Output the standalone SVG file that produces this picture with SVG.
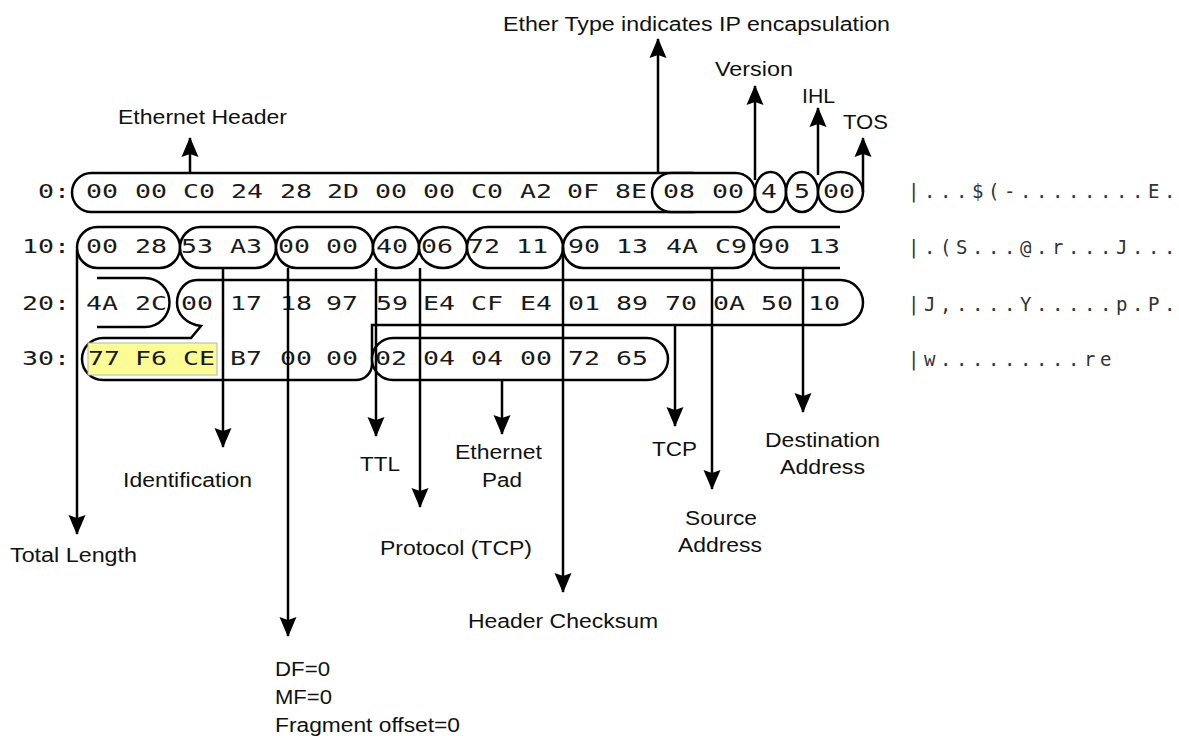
<svg xmlns="http://www.w3.org/2000/svg" width="1179" height="736" viewBox="0 0 1179 736">
<style>
.hx{font-family:"DejaVu Sans Mono",monospace;font-size:19px;fill:#1a1a1a}
.asc{font-family:"DejaVu Sans Mono",monospace;font-size:19px;letter-spacing:4.56px;fill:#333}
.lbl{font-family:"Liberation Sans",Arial,sans-serif;font-size:20px;fill:#111}
.sh{fill:#fff;stroke:#000;stroke-width:2.5}
.op{fill:none;stroke:#000;stroke-width:2.5}
.ar{fill:none;stroke:#000;stroke-width:2.5;marker-end:url(#ah)}
.hl{fill:#fcfc96;stroke:#b4b4b4;stroke-width:1}
</style>
<defs>
<marker id="ah" markerUnits="userSpaceOnUse" markerWidth="20" markerHeight="19" viewBox="0 0 20 19" refX="19" refY="9.5" orient="auto"><path d="M0,1 L20,9.5 L0,18 L3,9.5 Z" fill="#000"/></marker>
</defs>
<rect width="1179" height="736" fill="#fff"/>

<g id="offsets" class="hx">
<text x="38" y="198" textLength="32" lengthAdjust="spacingAndGlyphs">0:</text>
<text x="22" y="253" textLength="48" lengthAdjust="spacingAndGlyphs">10:</text>
<text x="22" y="310" textLength="48" lengthAdjust="spacingAndGlyphs">20:</text>
<text x="22" y="365" textLength="48" lengthAdjust="spacingAndGlyphs">30:</text>
</g>

<g id="ethernet-header">
<rect class="sh" x="72" y="173" width="640" height="39" rx="19.5"/>
<g class="hx">
<text x="86" y="198" textLength="32" lengthAdjust="spacingAndGlyphs">00</text>
<text x="135" y="198" textLength="32" lengthAdjust="spacingAndGlyphs">00</text>
<text x="183" y="198" textLength="32" lengthAdjust="spacingAndGlyphs">C0</text>
<text x="231" y="198" textLength="32" lengthAdjust="spacingAndGlyphs">24</text>
<text x="280" y="198" textLength="32" lengthAdjust="spacingAndGlyphs">28</text>
<text x="327" y="198" textLength="32" lengthAdjust="spacingAndGlyphs">2D</text>
<text x="375" y="198" textLength="32" lengthAdjust="spacingAndGlyphs">00</text>
<text x="423" y="198" textLength="32" lengthAdjust="spacingAndGlyphs">00</text>
<text x="471" y="198" textLength="32" lengthAdjust="spacingAndGlyphs">C0</text>
<text x="520" y="198" textLength="32" lengthAdjust="spacingAndGlyphs">A2</text>
<text x="567" y="198" textLength="32" lengthAdjust="spacingAndGlyphs">0F</text>
<text x="615" y="198" textLength="32" lengthAdjust="spacingAndGlyphs">8E</text>
</g>
</g>

<g id="ether-type">
<rect class="sh" x="652" y="173" width="103" height="39" rx="19.5"/>
<text class="hx" x="663" y="198" textLength="32" lengthAdjust="spacingAndGlyphs">08</text>
<text class="hx" x="712" y="198" textLength="32" lengthAdjust="spacingAndGlyphs">00</text>
</g>

<g id="version">
<ellipse class="sh" cx="770.5" cy="192" rx="15.5" ry="20"/>
<text class="hx" x="761" y="198" textLength="16" lengthAdjust="spacingAndGlyphs">4</text>
</g>
<g id="ihl">
<ellipse class="sh" cx="802" cy="192" rx="16" ry="20"/>
<text class="hx" x="794" y="198" textLength="16" lengthAdjust="spacingAndGlyphs">5</text>
</g>
<g id="tos">
<ellipse class="sh" cx="840.5" cy="192" rx="22.5" ry="20"/>
<text class="hx" x="823" y="198" textLength="32" lengthAdjust="spacingAndGlyphs">00</text>
</g>

<g id="total-length">
<rect class="sh" x="77" y="227" width="103" height="41" rx="20.5"/>
<text class="hx" x="86" y="253" textLength="32" lengthAdjust="spacingAndGlyphs">00</text>
<text class="hx" x="135" y="253" textLength="32" lengthAdjust="spacingAndGlyphs">28</text>
</g>
<g id="identification">
<rect class="sh" x="180" y="227" width="96" height="41" rx="20.5"/>
<text class="hx" x="181" y="253" textLength="32" lengthAdjust="spacingAndGlyphs">53</text>
<text class="hx" x="230" y="253" textLength="32" lengthAdjust="spacingAndGlyphs">A3</text>
</g>
<g id="flags-fragment">
<rect class="sh" x="276" y="227" width="97" height="41" rx="20.5"/>
<text class="hx" x="278" y="253" textLength="32" lengthAdjust="spacingAndGlyphs">00</text>
<text class="hx" x="326" y="253" textLength="32" lengthAdjust="spacingAndGlyphs">00</text>
</g>
<g id="ttl">
<ellipse class="sh" cx="396" cy="247.5" rx="23" ry="20.5"/>
<text class="hx" x="376" y="253" textLength="32" lengthAdjust="spacingAndGlyphs">40</text>
</g>
<g id="protocol">
<ellipse class="sh" cx="443" cy="247.5" rx="24" ry="20.5"/>
<text class="hx" x="421" y="253" textLength="32" lengthAdjust="spacingAndGlyphs">06</text>
</g>
<g id="header-checksum">
<rect class="sh" x="467" y="227" width="96" height="41" rx="20.5"/>
<text class="hx" x="468" y="253" textLength="32" lengthAdjust="spacingAndGlyphs">72</text>
<text class="hx" x="516" y="253" textLength="32" lengthAdjust="spacingAndGlyphs">11</text>
</g>
<g id="source-address">
<rect class="sh" x="563" y="227" width="191" height="41" rx="20.5"/>
<text class="hx" x="568" y="253" textLength="32" lengthAdjust="spacingAndGlyphs">90</text>
<text class="hx" x="616" y="253" textLength="32" lengthAdjust="spacingAndGlyphs">13</text>
<text class="hx" x="666" y="253" textLength="32" lengthAdjust="spacingAndGlyphs">4A</text>
<text class="hx" x="715" y="253" textLength="32" lengthAdjust="spacingAndGlyphs">C9</text>
</g>
<g id="destination-address">
<path class="op" d="M840 227 H774.5 A20.5 20.5 0 0 0 774.5 268 H840"/>
<text class="hx" x="758" y="253" textLength="32" lengthAdjust="spacingAndGlyphs">90</text>
<text class="hx" x="808" y="253" textLength="32" lengthAdjust="spacingAndGlyphs">13</text>
<path class="op" d="M97 278 H145 A24.5 24.5 0 0 1 145 327 H97"/>
<text class="hx" x="86" y="310" textLength="32" lengthAdjust="spacingAndGlyphs">4A</text>
<text class="hx" x="135" y="310" textLength="32" lengthAdjust="spacingAndGlyphs">2C</text>
</g>

<g id="tcp-header">
<path class="sh" d="M197 280 H840.5 A22.5 22.5 0 0 1 840.5 325 H372 V364 A16 16 0 0 1 356 380 H103 A21 21 0 0 1 103 338 H191 L201 326 C186 324 177 314 177 303 C177 290 186 280 197 280 Z"/>
<rect class="hl" x="88" y="343" width="129" height="32"/>
<g class="hx">
<text x="181" y="310" textLength="32" lengthAdjust="spacingAndGlyphs">00</text>
<text x="230" y="310" textLength="32" lengthAdjust="spacingAndGlyphs">17</text>
<text x="280" y="310" textLength="32" lengthAdjust="spacingAndGlyphs">18</text>
<text x="326" y="310" textLength="32" lengthAdjust="spacingAndGlyphs">97</text>
<text x="376" y="310" textLength="32" lengthAdjust="spacingAndGlyphs">59</text>
<text x="423" y="310" textLength="32" lengthAdjust="spacingAndGlyphs">E4</text>
<text x="471" y="310" textLength="32" lengthAdjust="spacingAndGlyphs">CF</text>
<text x="520" y="310" textLength="32" lengthAdjust="spacingAndGlyphs">E4</text>
<text x="568" y="310" textLength="32" lengthAdjust="spacingAndGlyphs">01</text>
<text x="616" y="310" textLength="32" lengthAdjust="spacingAndGlyphs">89</text>
<text x="665" y="310" textLength="32" lengthAdjust="spacingAndGlyphs">70</text>
<text x="713" y="310" textLength="32" lengthAdjust="spacingAndGlyphs">0A</text>
<text x="761" y="310" textLength="32" lengthAdjust="spacingAndGlyphs">50</text>
<text x="808" y="310" textLength="32" lengthAdjust="spacingAndGlyphs">10</text>
<text x="88" y="365" textLength="32" lengthAdjust="spacingAndGlyphs">77</text>
<text x="135" y="365" textLength="32" lengthAdjust="spacingAndGlyphs">F6</text>
<text x="183" y="365" textLength="32" lengthAdjust="spacingAndGlyphs">CE</text>
<text x="230" y="365" textLength="32" lengthAdjust="spacingAndGlyphs">B7</text>
<text x="280" y="365" textLength="32" lengthAdjust="spacingAndGlyphs">00</text>
<text x="326" y="365" textLength="32" lengthAdjust="spacingAndGlyphs">00</text>
</g>
</g>

<g id="ethernet-pad">
<rect class="sh" x="372" y="338" width="296" height="42" rx="21"/>
<g class="hx">
<text x="375" y="365" textLength="32" lengthAdjust="spacingAndGlyphs">02</text>
<text x="423" y="365" textLength="32" lengthAdjust="spacingAndGlyphs">04</text>
<text x="471" y="365" textLength="32" lengthAdjust="spacingAndGlyphs">04</text>
<text x="520" y="365" textLength="32" lengthAdjust="spacingAndGlyphs">00</text>
<text x="568" y="365" textLength="32" lengthAdjust="spacingAndGlyphs">72</text>
<text x="616" y="365" textLength="32" lengthAdjust="spacingAndGlyphs">65</text>
</g>
</g>

<g id="ascii" class="asc">
<text x="908" y="198">|...$(-........E.</text>
<text x="908" y="254">|.(S...@.r...J...</text>
<text x="908" y="311">|J,....Y.....p.P.</text>
<text x="908" y="366">|w.........re</text>
</g>

<g id="connectors">
<path class="ar" d="M190 173 V138"/>
<path class="ar" d="M658 173 V39"/>
<path class="ar" d="M755 180 V86"/>
<path class="ar" d="M818 175 V108"/>
<path class="ar" d="M863 192 V138"/>
<path class="ar" d="M77 250 V534"/>
<path class="ar" d="M223 268 V447"/>
<path class="ar" d="M288 268 V636"/>
<path class="ar" d="M376 268 V436"/>
<path class="ar" d="M420 268 V507"/>
<path class="ar" d="M563 247 V592"/>
<path class="ar" d="M712 268 V489"/>
<path class="ar" d="M803 268 V412"/>
<path class="ar" d="M675 325 V426"/>
<path class="ar" d="M502 380 V434"/>
</g>

<g id="labels" class="lbl">
<text x="503" y="31" textLength="387" lengthAdjust="spacingAndGlyphs">Ether Type indicates IP encapsulation</text>
<text x="715" y="76" textLength="78" lengthAdjust="spacingAndGlyphs">Version</text>
<text x="802" y="103" textLength="33" lengthAdjust="spacingAndGlyphs">IHL</text>
<text x="843" y="129" textLength="45" lengthAdjust="spacingAndGlyphs">TOS</text>
<text x="118" y="124" textLength="169" lengthAdjust="spacingAndGlyphs">Ethernet Header</text>
<text x="123" y="487" textLength="129" lengthAdjust="spacingAndGlyphs">Identification</text>
<text x="10" y="562" textLength="127" lengthAdjust="spacingAndGlyphs">Total Length</text>
<text x="360" y="471" textLength="40" lengthAdjust="spacingAndGlyphs">TTL</text>
<text x="380" y="555" textLength="152" lengthAdjust="spacingAndGlyphs">Protocol (TCP)</text>
<text x="455" y="459" textLength="87" lengthAdjust="spacingAndGlyphs">Ethernet</text>
<text x="482" y="487" textLength="40" lengthAdjust="spacingAndGlyphs">Pad</text>
<text x="468" y="628" textLength="190" lengthAdjust="spacingAndGlyphs">Header Checksum</text>
<text x="652" y="456" textLength="45" lengthAdjust="spacingAndGlyphs">TCP</text>
<text x="685" y="525" textLength="72" lengthAdjust="spacingAndGlyphs">Source</text>
<text x="678" y="552" textLength="84" lengthAdjust="spacingAndGlyphs">Address</text>
<text x="765" y="447" textLength="115" lengthAdjust="spacingAndGlyphs">Destination</text>
<text x="780" y="474" textLength="85" lengthAdjust="spacingAndGlyphs">Address</text>
<text x="275" y="676" textLength="55" lengthAdjust="spacingAndGlyphs">DF=0</text>
<text x="275" y="704" textLength="57" lengthAdjust="spacingAndGlyphs">MF=0</text>
<text x="275" y="732" textLength="185" lengthAdjust="spacingAndGlyphs">Fragment offset=0</text>
</g>
</svg>
